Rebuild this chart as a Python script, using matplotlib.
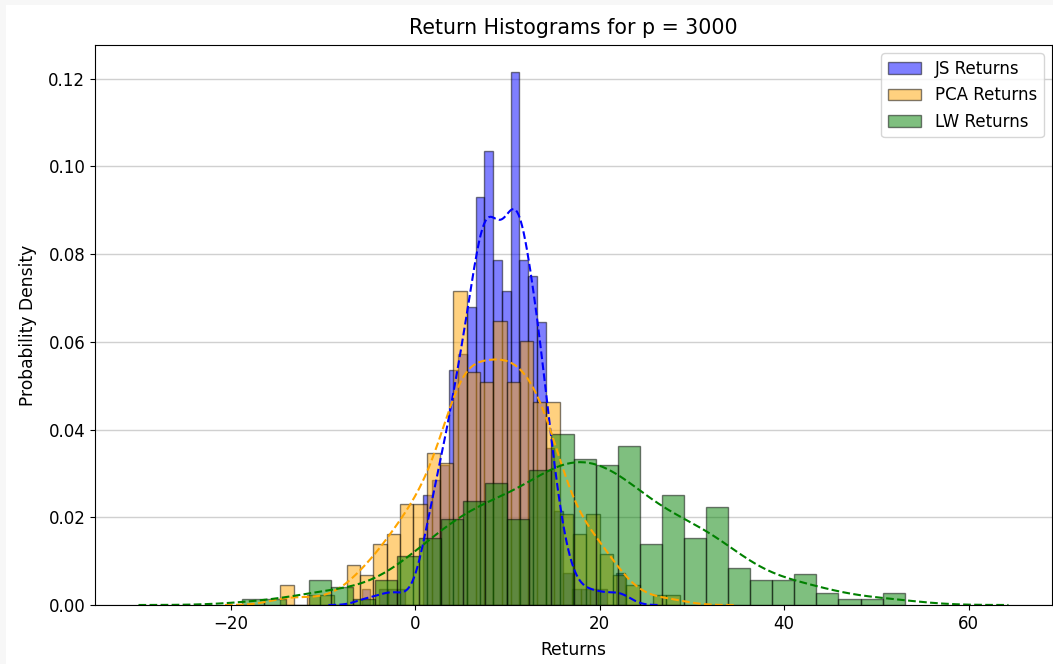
import numpy as np
from matplotlib import pyplot as plt
from matplotlib.patches import Rectangle

# 30 bins per series, density heights
js_label = 'JS Returns'
js_range = (-5.8, 22.7)
js_density = [0.0036, 0.0, 0.0036, 0.0036, 0.0036, 0.0, 0.0, 0.025, 0.0286, 0.032,
              0.0535, 0.0572, 0.068, 0.093, 0.1036, 0.0786, 0.0716, 0.1216, 0.0787, 0.0751,
              0.0645, 0.0358, 0.0215, 0.0072, 0.0036, 0.0036, 0.0036, 0.0036, 0.0, 0.0072]
js_bw = 1.2

pca_label = 'PCA Returns'
pca_range = (-14.61, 28.66)
pca_density = [0.0046, 0.0, 0.0023, 0.0023, 0.0, 0.0092, 0.0069, 0.0139, 0.0162, 0.0231,
               0.0231, 0.0347, 0.0324, 0.0716, 0.0532, 0.0509, 0.0647, 0.0509, 0.0601, 0.0462,
               0.0462, 0.0208, 0.0162, 0.0208, 0.0116, 0.0069, 0.0046, 0.0, 0.0023, 0.0023]
pca_bw = 2.0

lw_label = 'LW Returns'
lw_range = (-18.73, 53.06)
lw_density = [0.0014, 0.0014, 0.0, 0.0056, 0.0042, 0.0014, 0.0056, 0.0111, 0.0153, 0.0195,
              0.0237, 0.0279, 0.0195, 0.0307, 0.039, 0.0334, 0.032, 0.0362, 0.0139, 0.0251,
              0.0153, 0.0223, 0.0084, 0.0056, 0.0056, 0.007, 0.0028, 0.0014, 0.0014, 0.0028]
lw_bw = 3.75


def kde_from_hist(edges, density, bw):
    """
    Гауссово сглаживание по гистограмме (как kde=True в seaborn, cut=3)
    """
    widths = np.diff(edges)
    centers = edges[:-1] + widths / 2
    weights = np.asarray(density) * widths
    weights = weights / weights.sum()
    sigma = np.sqrt(bw ** 2 + widths[0] ** 2 / 12)
    xs = np.linspace(edges[0] - 3 * bw, edges[-1] + 3 * bw, 200)
    z = (xs[:, None] - centers[None, :]) / sigma
    ys = (weights[None, :] * np.exp(-0.5 * z ** 2)).sum(axis=1) / (sigma * np.sqrt(2 * np.pi))
    return xs, ys


def draw_series(ax, value_range, density, bw, color, label):
    edges = np.linspace(value_range[0], value_range[1], len(density) + 1)
    ax.bar(edges[:-1], density, width=np.diff(edges), align='edge',
           color=color, edgecolor='black', linewidth=1, alpha=0.5, label=label)
    xs, ys = kde_from_hist(edges, density, bw)
    ax.plot(xs, ys, color=color, linestyle='--', linewidth=1.5)


fig = plt.figure(figsize=(10.53, 6.64), dpi=100)
fig.patch.set_facecolor('#f7f7f7')
fig.patches.append(Rectangle((6 / 1053, 0), 1, 1 - 5 / 664, transform=fig.transFigure,
                             facecolor='white', edgecolor='none', zorder=-1))
ax = fig.add_axes([95 / 1053, 1 - 605 / 664, (1052 - 95) / 1053, (605 - 45) / 664])

draw_series(ax, js_range, js_density, js_bw, 'blue', js_label)
draw_series(ax, pca_range, pca_density, pca_bw, 'orange', pca_label)
draw_series(ax, lw_range, lw_density, lw_bw, 'green', lw_label)

ax.set_xticks([-20, 0, 20, 40, 60])
ax.set_yticks(np.arange(0, 0.121, 0.02))
ax.yaxis.set_major_formatter(plt.FormatStrFormatter('%.2f'))
ax.tick_params(labelsize=12)
ax.grid(axis='y', color='#d0d0d0', linewidth=1)
ax.set_axisbelow(True)

ax.set_title('Return Histograms for p = 3000', fontsize=14.8, pad=8)
ax.set_xlabel('Returns', fontsize=12.3, labelpad=6)
ax.set_ylabel('Probability Density', fontsize=12.3, labelpad=8)
ax.legend(loc='upper right', fontsize=12)

fig.savefig('out.png', dpi=100, facecolor=fig.get_facecolor())
